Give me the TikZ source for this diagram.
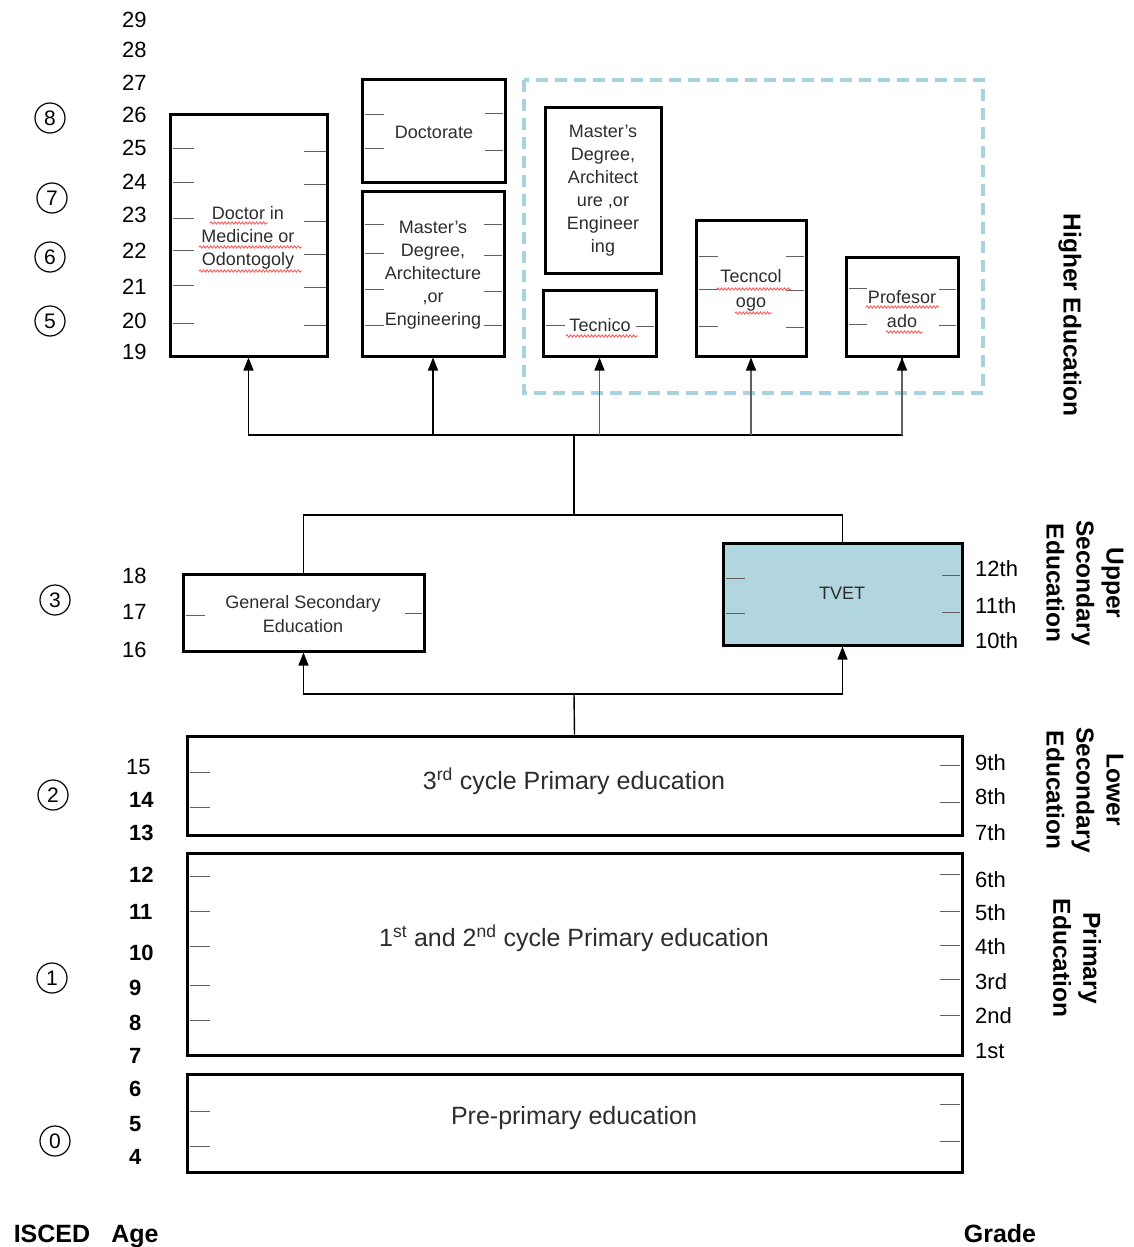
\documentclass[tikz,border=0pt]{standalone}
\usepackage{fontspec}
\setmainfont{Liberation Sans}
\usetikzlibrary{arrows.meta,decorations.pathmorphing}
\definecolor{dashblue}{RGB}{168,210,221}
\definecolor{tvetblue}{RGB}{178,214,224}
\definecolor{txtgray}{RGB}{45,45,45}
\newcommand\tkl[3]{\foreach \yy in {#3} {\draw[tick] (#1,\yy) -- (#2,\yy);}}
\begin{document}
\begin{tikzpicture}[x=1pt,y=-1pt,
  box/.style={draw, line width=3pt, inner sep=0pt},
  tick/.style={draw=gray!75!black, line width=1pt},
  txt/.style={align=center, text=txtgray, font=\fontsize{18}{23}\selectfont, inner sep=0pt},
  big/.style={text=txtgray, inner sep=0pt, font=\fontsize{25}{28}\selectfont},
  age/.style={anchor=west, inner sep=0pt, font=\fontsize{22}{26}\selectfont},
  agebf/.style={anchor=west, inner sep=0pt, font=\fontsize{22}{26}\selectfont\bfseries},
  grade/.style={anchor=west, inner sep=0pt, font=\fontsize{22}{26}\selectfont},
  isced/.style={circle, draw, line width=1.2pt, minimum size=30pt, inner sep=0pt, font=\fontsize{21}{21}\selectfont},
  side/.style={rotate=-90, align=center, inner sep=0pt, font=\fontsize{24.5}{30}\selectfont\bfseries},
  lbl/.style={anchor=base, inner sep=0pt, font=\fontsize{25}{28}\selectfont\bfseries},
  arr/.style={-{Triangle[length=13pt,width=10pt]}, line width=1.4pt},
  garr/.style={-{Triangle[length=13pt,width=10pt,color=black]}, line width=1.4pt, draw=gray!75!black},
  conn/.style={line width=1.4pt},
  squig/.style={draw=red!70, line width=0.8pt, decorate, decoration={snake, amplitude=1.2pt, segment length=3.5pt}}
]
\useasboundingbox (0,0) rectangle (1133,1247);

% dashed region
\draw[dashblue, line width=4pt, dash pattern=on 12pt off 7pt] (524,80) rectangle (983,393);

% boxes
\node[box, minimum width=157pt, minimum height=242pt] (docmed) at (248.5,235) {};
\node[box, minimum width=143pt, minimum height=103pt] (doct) at (433.5,130.5) {};
\node[box, minimum width=142pt, minimum height=165pt] (mast1) at (433,273.5) {};
\node[box, minimum width=116pt, minimum height=166pt] (mast2) at (603,190) {};
\node[box, minimum width=113pt, minimum height=66pt] (tecnico) at (599.5,323) {};
\node[box, minimum width=110pt, minimum height=136pt] (tecncol) at (751,288) {};
\node[box, minimum width=112pt, minimum height=99pt] (prof) at (902,306.5) {};
\node[box, minimum width=241pt, minimum height=77pt] (gse) at (303.5,612.5) {};
\node[box, fill=tvetblue, minimum width=239pt, minimum height=102pt] (tvet) at (842.5,594) {};
\node[box, minimum width=775pt, minimum height=99pt] (prim3) at (574.5,785.5) {};
\node[box, minimum width=775pt, minimum height=202pt] (prim12) at (574.5,954) {};
\node[box, minimum width=775pt, minimum height=98pt] (pre) at (574.5,1123) {};

% ticks
\tkl{173}{194}{148,182,218,250,285,323}
\tkl{304}{326}{151,184,221,254,287,325}
\tkl{365}{384}{114,148}
\tkl{485}{503}{113,150}
\tkl{365}{384}{224,253,289,325}
\tkl{484}{502}{224,255,291,325}
\tkl{546}{565}{325}
\tkl{636}{654}{326}
\tkl{699}{718}{256,289,326}
\tkl{786}{804}{256,290,327}
\tkl{849}{867}{288,324}
\tkl{939}{956}{289,325}
\tkl{186}{205}{615}
\tkl{405}{422}{613}
\tkl{726}{745}{578,613}
\tkl{942}{960}{575,612}
\tkl{190}{210}{772,807}
\tkl{940}{960}{765,802}
\tkl{190}{210}{876,911,946,985,1020}
\tkl{940}{960}{874,911,945,979,1015}
\tkl{190}{210}{1111,1146}
\tkl{940}{960}{1104,1141}

% texts in boxes
\node[txt, fill=white, inner sep=1pt] (tdocmed) at (248,238) {Doctor in\\Medicine or\\Odontogoly};
\node[txt] (tdoct) at (434,132) {Doctorate};
\node[txt, fill=white, inner sep=1pt] (tmast1) at (433,275) {Master’s\\Degree,\\Architecture\\,or\\Engineering};
\node[txt] (tmast2) at (603,191) {Master’s\\Degree,\\Architect\\ure ,or\\Engineer\\ing};
\node[txt, fill=white, inner sep=1pt] (ttecnico) at (600,325) {Tecnico};
\node[txt, fill=white, inner sep=1pt, font=\fontsize{18}{25}\selectfont] (ttecncol) at (751,290.5) {Tecncol\\ogo};
\node[txt, fill=white, inner sep=1pt, font=\fontsize{18}{24}\selectfont] (tprof) at (902,309) {Profesor\\ado};
\node[txt, font=\fontsize{18}{24}\selectfont] (tgse) at (303,614) {General Secondary\\Education};
\node[txt] (ttvet) at (842,593) {TVET};
\node[big] (tprim3) at (574,781) {3\textsuperscript{rd} cycle Primary education};
\node[big] (tprim12) at (574,938) {1\textsuperscript{st} and 2\textsuperscript{nd} cycle Primary education};
\node[big] (tpre) at (574,1118) {Pre-primary education};

% spell-check squiggles
\draw[squig] (210,223) -- (268,223);
\draw[squig] (199,247) -- (302,247);
\draw[squig] (199,271) -- (302,271);
\draw[squig] (566,336) -- (638,336);
\draw[squig] (717,289) -- (791,289);
\draw[squig] (735,313) -- (772,313);
\draw[squig] (866,307) -- (939,307);
\draw[squig] (886,332) -- (923,332);

% connectors
\coordinate (j1) at (574,435);
\coordinate (j2) at (574,515);
\coordinate (j3) at (574,694);
\draw[conn] (j1) -| (docmed.south);
\draw[conn] (j1) -| (prof.south);
\draw[arr] (docmed.south |- j1) -- (docmed.south);
\draw[arr] (mast1.south |- j1) -- (mast1.south);
\draw[garr] (tecnico.south |- j1) -- (tecnico.south);
\draw[garr] (tecncol.south |- j1) -- (tecncol.south);
\draw[garr] (prof.south |- j1) -- (prof.south);
\draw[line width=2.2pt] (j2) -- (j1);
\draw[conn] (j2) -| (gse.north);
\draw[conn] (j2) -| (tvet.north);
\draw[conn] (prim3.north) -- (j3);
\draw[arr] (j3) -| (gse.south);
\draw[arr] (j3) -| (tvet.south);

% ages
\foreach \a/\y in {29/20,28/50,27/83,26/115,25/148,24/182,23/215,22/251,21/287,20/321,19/352,18/576,17/612,16/650}
  {\node[age] (age\a) at (122,\y) {\a};}
\node[age] (age15) at (126,767) {15};
\foreach \a/\y in {14/800,13/833,12/875,11/912,10/953}
  {\node[agebf] (age\a) at (129,\y) {\a};}
\foreach \a/\y in {9/988,8/1023,7/1056,6/1089,5/1124,4/1157}
  {\node[agebf] (age\a) at (129,\y) {\a};}

% ISCED levels
\node[isced] (i8) at (50,118) {8};
\node[isced] (i7) at (52,198) {7};
\node[isced] (i6) at (50,257) {6};
\node[isced] (i5) at (50,321) {5};
\node[isced] (i3) at (55,600) {3};
\node[isced] (i2) at (53,795) {2};
\node[isced] (i1) at (52,978) {1};
\node[isced] (i0) at (55,1141) {0};

% grades
\foreach \g/\y in {12th/569,11th/606,10th/641,9th/763,8th/797,7th/833,6th/880,5th/913,4th/947,3rd/982,2nd/1016,1st/1051}
  {\node[grade] (gr\g) at (975,\y) {\g};}

% side labels
\node[side] (she) at (1070,315) {Higher Education};
\node[side] (sus) at (1085,583) {Upper\\Secondary\\Education};
\node[side] (sls) at (1085,790) {Lower\\Secondary\\Education};
\node[side] (spe) at (1077,958) {Primary\\Education};

% bottom labels
\node[lbl] (lisced) at (52,1242) {ISCED};
\node[lbl] (lage) at (135,1242) {Age};
\node[lbl] (lgrade) at (1000,1242) {Grade};
\end{tikzpicture}
\end{document}
